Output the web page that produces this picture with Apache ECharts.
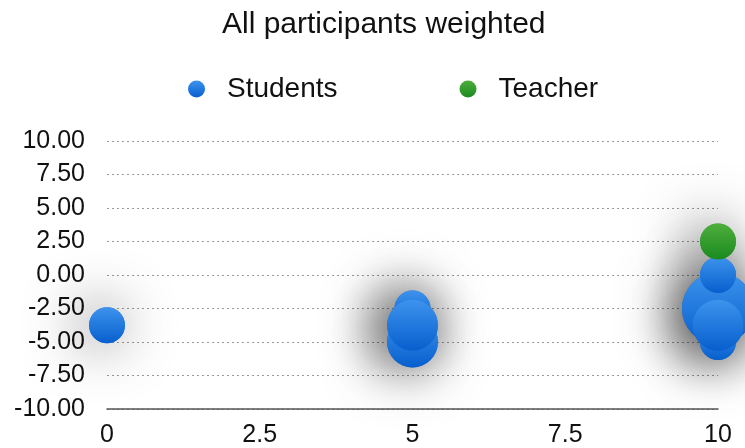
<!DOCTYPE html>
<html>
<head>
<meta charset="utf-8">
<script src="https://cdn.jsdelivr.net/npm/echarts@6/dist/echarts.min.js"></script>
<style>html,body{margin:0;padding:0;background:#fff}#c{width:745px;height:448px}</style>
</head>
<body>
<div id="c"></div>
<script>
const titleText = 'All participants weighted';
const seriesNames = ['Students', 'Teacher'];
const xTicks = [0, 2.5, 5, 7.5, 10];
const yTicks = [-10, -7.5, -5, -2.5, 0, 2.5, 5, 7.5, 10];
// x, y and weight of each bubble
const studentsX = [0, 5, 5, 5, 10, 10, 10, 10];
const studentsY = [-3.75, -2.5, -5, -3.75, -2.5, -5, 0, -3.75];
const studentsW = [1, 1, 2, 2, 4, 1, 1, 2];
const teacherX = [10];
const teacherY = [2.5];
const teacherW = [1];

const FONT = 'Liberation Sans, Arial, Helvetica, sans-serif';
function pts(xs, ys, ws) { return xs.map((x, i) => [x, ys[i], ws[i]]); }
function grad(top, bottom) {
  return new echarts.graphic.LinearGradient(0, 0, 0, 1, [
    { offset: 0, color: top }, { offset: 1, color: bottom }
  ]);
}
const blue = grad('#3d93ec', '#075fce');
const green = grad('#4fae3c', '#1a8a20');
const sizeFn = v => 36 * Math.sqrt(v[2]);
const shadowStyle = { shadowBlur: 55, shadowColor: 'rgba(0,0,0,0.85)', shadowOffsetX: -8, shadowOffsetY: 0 };

const chart = echarts.init(document.getElementById('c'));
chart.setOption({
  animation: false,
  title: {
    text: titleText, left: 217, top: 5,
    textStyle: { fontFamily: FONT, fontSize: 30, fontWeight: 'normal', color: '#111' }
  },
  legend: {
    data: seriesNames, left: 183, top: 70, icon: 'circle',
    itemWidth: 17, itemHeight: 17, itemGap: 122,
    textStyle: { fontFamily: FONT, fontSize: 28, color: '#111', padding: [0, 0, 0, 17] }
  },
  grid: { left: 107, right: 27, top: 141, bottom: 39, containLabel: false },
  xAxis: {
    type: 'value', min: 0, max: 10, interval: 2.5,
    axisLine: { show: true, onZero: false, lineStyle: { color: '#555', width: 1.5 } },
    axisTick: { show: false },
    splitLine: { show: false },
    axisLabel: { fontFamily: FONT, fontSize: 25, color: '#111', margin: 14,
      formatter: v => xTicks.includes(v) ? String(v) : '' }
  },
  yAxis: {
    type: 'value', min: -10, max: 10, interval: 2.5,
    axisLine: { show: false }, axisTick: { show: false },
    splitLine: { show: true, lineStyle: { color: '#999', type: [2, 3], width: 1 } },
    axisLabel: { fontFamily: FONT, fontSize: 25, color: '#111', margin: 22,
      formatter: v => yTicks.includes(v) ? v.toFixed(2) : '' }
  },
  series: [
    {
      name: 'shadow-students', type: 'scatter', clip: false, silent: true, z: 1,
      data: pts(studentsX, studentsY, studentsW), symbolSize: sizeFn,
      itemStyle: Object.assign({ color: '#1a6fd8' }, shadowStyle)
    },
    {
      name: 'shadow-teacher', type: 'scatter', clip: false, silent: true, z: 1,
      data: pts(teacherX, teacherY, teacherW), symbolSize: sizeFn,
      itemStyle: Object.assign({ color: '#2a9a2a' }, shadowStyle)
    },
    {
      name: seriesNames[0], type: 'scatter', clip: false, z: 3,
      data: pts(studentsX, studentsY, studentsW), symbolSize: sizeFn,
      itemStyle: { color: blue, opacity: 1 }
    },
    {
      name: seriesNames[1], type: 'scatter', clip: false, z: 3,
      data: pts(teacherX, teacherY, teacherW), symbolSize: sizeFn,
      itemStyle: { color: green, opacity: 1 }
    }
  ]
});
</script>
</body>
</html>
